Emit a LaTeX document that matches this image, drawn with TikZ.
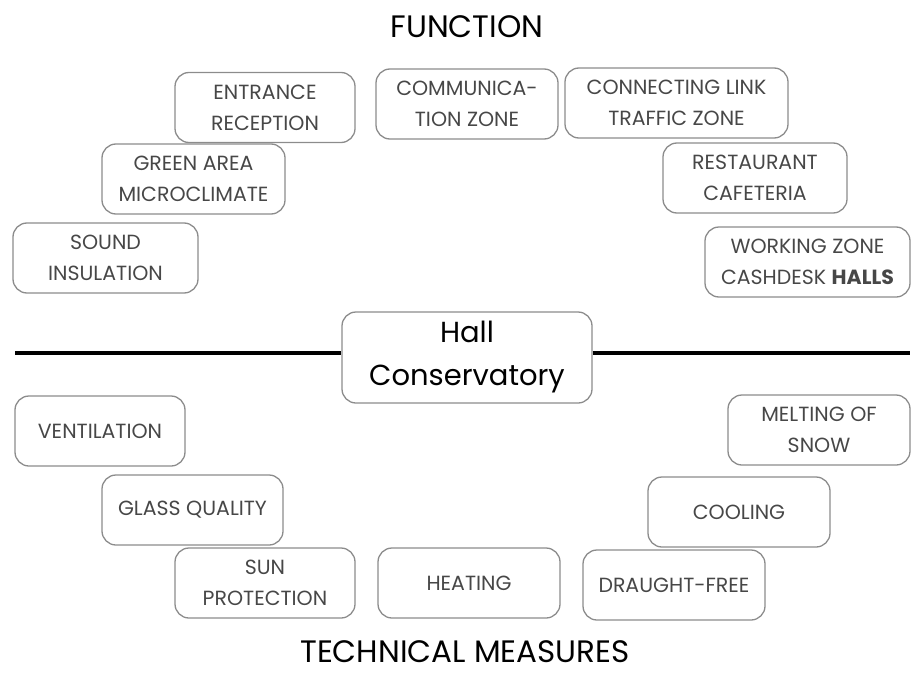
\documentclass[tikz,border=0pt]{standalone}
\usepackage{fontspec}
\setmainfont{Poppins}
\usetikzlibrary{positioning}
\definecolor{boxgray}{gray}{0.55}
\definecolor{textgray}{gray}{0.28}

\begin{document}
\begin{tikzpicture}[x=1pt,y=-1pt]
  \tikzstyle{zone}=[rectangle,rounded corners=14pt,draw=boxgray,line width=1.3pt,text=textgray,align=center,inner sep=0pt,minimum height=70pt,font=\fontsize{20.5}{31}\selectfont]
  \tikzstyle{core}=[zone,text=black,minimum width=250pt,minimum height=91pt,font=\fontsize{29}{43}\selectfont]
  \tikzstyle{heading}=[text=black,anchor=base,inner sep=0pt,font=\fontsize{31}{36}\selectfont]

  \useasboundingbox (0,0) rectangle (917,674);

  \node [heading] (function) at (467,38) {FUNCTION};
  \node [heading] (measures) at (465,662) {TECHNICAL MEASURES};

  \node [core] (hall) at (467,357.5) {Hall\\Conservatory};

  % function side
  \node [zone,minimum width=180pt] (entrance) at (265,107.5) {ENTRANCE\\RECEPTION};
  \node [zone,minimum width=182pt] (comm)     at (467,104)   {COMMUNICA-\\TION ZONE};
  \node [zone,minimum width=223pt] (link)     at (676.5,103) {CONNECTING LINK\\TRAFFIC ZONE};
  \node [zone,minimum width=183pt] (green)    at (193.5,179) {GREEN AREA\\MICROCLIMATE};
  \node [zone,minimum width=184pt] (resto)    at (755,178)   {RESTAURANT\\CAFETERIA};
  \node [zone,minimum width=185pt] (sound)    at (105.5,258) {SOUND\\INSULATION};
  \node [zone,minimum width=205pt] (working)  at (807.5,262) {WORKING ZONE\\CASHDESK \textbf{HALLS}};

  % technical side
  \node [zone,minimum width=170pt] (vent)     at (100,431)   {VENTILATION};
  \node [zone,minimum width=181pt] (glass)    at (192.5,510) {GLASS QUALITY};
  \node [zone,minimum width=180pt] (sun)      at (265,583)   {SUN\\PROTECTION};
  \node [zone,minimum width=182pt] (heating)  at (469,583)   {HEATING};
  \node [zone,minimum width=182pt] (draught)  at (674,585)   {DRAUGHT-FREE};
  \node [zone,minimum width=182pt] (cooling)  at (739,512)   {COOLING};
  \node [zone,minimum width=182pt] (melting)  at (819,430)   {MELTING OF\\SNOW};

  % dividing line
  \coordinate (lend) at (15,353);
  \coordinate (rend) at (910,353);
  \draw [line width=3.5pt] (lend) -- (lend -| hall.west);
  \draw [line width=3.5pt] (rend -| hall.east) -- (rend);
\end{tikzpicture}
\end{document}
